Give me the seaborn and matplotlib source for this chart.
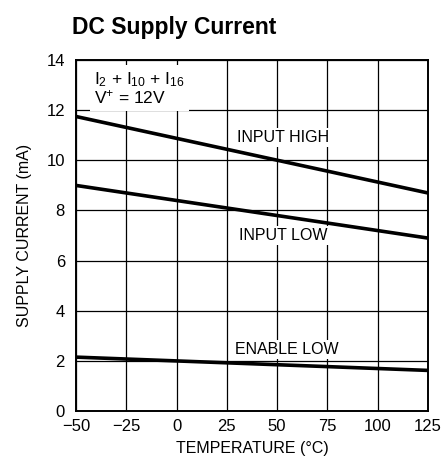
import pandas as pd
import seaborn as sns
import matplotlib.pyplot as plt

# Data
temperature = [-50, 125]
input_high = [11.75, 8.7]
input_low = [9.0, 6.9]
enable_low = [2.15, 1.62]

x_ticks = [-50, -25, 0, 25, 50, 75, 100, 125]
x_tick_labels = ['\u221250', '\u221225', '0', '25', '50', '75', '100', '125']
y_ticks = [0, 2, 4, 6, 8, 10, 12, 14]

df = pd.DataFrame({
    'temp': temperature * 3,
    'current': input_high + input_low + enable_low,
    'series': ['INPUT HIGH'] * 2 + ['INPUT LOW'] * 2 + ['ENABLE LOW'] * 2,
})

sns.set_style('white')
plt.rcParams['font.family'] = ['Liberation Sans', 'DejaVu Sans']
plt.rcParams['text.color'] = 'black'
plt.rcParams['axes.labelcolor'] = 'black'
plt.rcParams['xtick.color'] = 'black'
plt.rcParams['ytick.color'] = 'black'
plt.rcParams['mathtext.fontset'] = 'custom'
plt.rcParams['mathtext.rm'] = 'Liberation Sans'

fig = plt.figure(figsize=(4.42, 4.66), dpi=100)
ax = fig.add_axes([0.172, 0.118, 0.796, 0.753])

sns.lineplot(data=df, x='temp', y='current', units='series', estimator=None,
             color='black', linewidth=2.6, ax=ax, zorder=3)

ax.set_xlim(-50, 125)
ax.set_ylim(0, 14)
ax.set_xticks(x_ticks)
ax.set_xticklabels(x_tick_labels)
ax.set_yticks(y_ticks)
ax.grid(True, color='black', linewidth=0.9)
ax.set_axisbelow(True)
for s in ax.spines.values():
    s.set_color('black')
    s.set_linewidth(1.4)
ax.tick_params(labelsize=12, length=0)
ax.tick_params(axis='x', pad=6)
ax.tick_params(axis='y', pad=8)

ax.set_xlabel('TEMPERATURE (\u00b0C)', fontsize=11.5, labelpad=5)
ax.set_ylabel('SUPPLY CURRENT (mA)', fontsize=11.5, labelpad=10)

box = dict(facecolor='white', edgecolor='none', pad=1.5)
ax.text(53, 10.9, 'INPUT HIGH', fontsize=11.5, ha='center', va='center', bbox=box, zorder=4)
ax.text(53, 7.0, 'INPUT LOW', fontsize=11.5, ha='center', va='center', bbox=box, zorder=4)
ax.text(55, 2.45, 'ENABLE LOW', fontsize=11.5, ha='center', va='center', bbox=box, zorder=4)
ax.text(-41, 12.15, 'I$\\mathregular{_2}$ + I$\\mathregular{_{10}}$ + I$\\mathregular{_{16}}$\nV$\\mathregular{^{+}}$ = 12V',
        fontsize=12.5, ha='left', va='bottom', linespacing=0.95,
        bbox=dict(facecolor='white', edgecolor='none', pad=3), zorder=4)

fig.text(0.163, 0.94, 'DC Supply Current', fontsize=16.5, fontweight='bold', ha='left', va='center')

fig.savefig('out.png', dpi=100)
